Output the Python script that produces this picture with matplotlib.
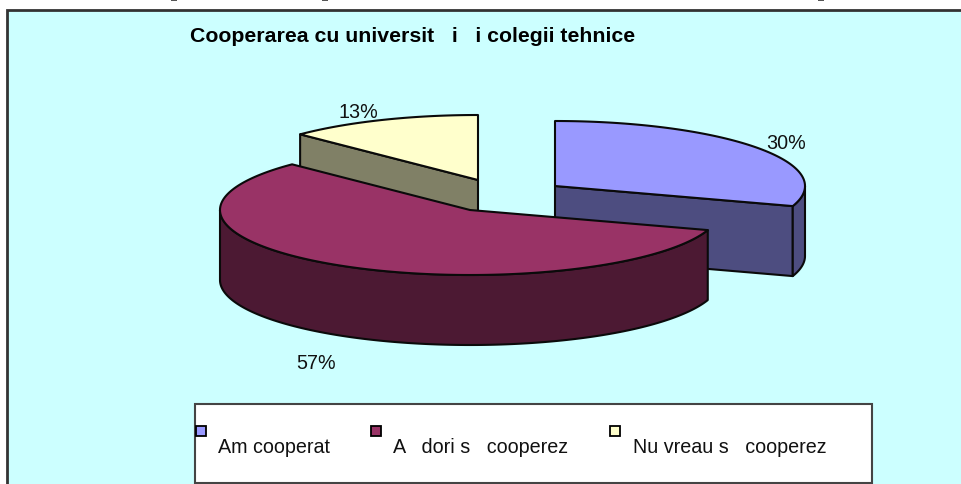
import numpy as np
import matplotlib
matplotlib.use("Agg")
import matplotlib.pyplot as plt
from matplotlib.patches import Rectangle

plt.rcParams['font.family'] = ['Liberation Sans', 'DejaVu Sans']

# Chart data (missing glyphs of the source are kept as blanks)
title = "Cooperarea cu universit   i   i colegii tehnice"
categories = ["Am cooperat", "A   dori s   cooperez", "Nu vreau s   cooperez"]
shares = [30, 57.4, 12.6]  # estimated from the slice edges, labels show them rounded
value_labels = ["30%", "57%", "13%"]

top_colors = ["#9999FF", "#993366", "#FFFFCC"]
side_colors = ["#4D4D80", "#4C1933", "#808066"]

# Pie geometry, pixels
RX, RY, DEPTH = 250, 65, 70
centers = [(555, 187), (470, 211), (478, 181)]
label_pos = [(786, 144), (316, 364), (358, 113)]
swatch_x = [196, 371, 610]
legend_text_x = [218, 393, 633]

fig = plt.figure(figsize=(9.62, 4.85), dpi=100, facecolor="white")
ax = fig.add_axes([0, 0, 1, 1])
ax.set_xlim(0, 962)
ax.set_ylim(485, 0)
ax.axis("off")


def rim(cx, cy, a0, a1, drop=0):
    # angles in degrees, clockwise from 12 o'clock
    t = np.radians(np.linspace(a0, a1, max(int(abs(a1 - a0)) * 2, 2)))
    return cx + RX * np.sin(t), cy - RY * np.cos(t) + drop


def draw_poly(xs, ys, color, zorder):
    ax.fill(xs, ys, facecolor=color, edgecolor="#0a0a0a", linewidth=1.5,
            joinstyle="round", zorder=zorder)


# chart area, runs off the right and bottom of the image
ax.add_patch(Rectangle((7.5, 10.5), 970, 490, facecolor="#CCFFFF", edgecolor="#333333",
                       linewidth=2, zorder=0))

# cut-off bits of the line of text above the chart
for x0 in [171, 322, 818]:
    ax.add_patch(Rectangle((x0, 0), 6, 1.5, facecolor="#555555", edgecolor="none", zorder=1))

edges = np.concatenate([[0], np.cumsum(shares)]) * 3.6

# Slices back to front: yellow, blue, maroon
for i in [2, 0, 1]:
    cx, cy = centers[i]
    a0, a1 = edges[i], edges[i + 1]
    z = 2 + [2, 0, 1].index(i) * 3

    # straight cut face that looks to the viewer
    if i in (0, 2):
        a_cut = a1 if i == 0 else a0
        rx_c, ry_c = rim(cx, cy, a_cut, a_cut + 1)
        draw_poly([cx, rx_c[0], rx_c[0], cx], [cy, ry_c[0], ry_c[0] + DEPTH, cy + DEPTH],
                  side_colors[i], z)

    # outer wall, only where the rim faces front (90 to 270 degrees)
    w0, w1 = max(a0, 90), min(a1, 270)
    if w1 > w0:
        xt, yt = rim(cx, cy, w0, w1)
        xb, yb = rim(cx, cy, w0, w1, DEPTH)
        draw_poly(np.concatenate([xt, xb[::-1]]), np.concatenate([yt, yb[::-1]]),
                  side_colors[i], z + 1)

    # top face
    xr, yr = rim(cx, cy, a0, a1)
    draw_poly(np.concatenate([[cx], xr]), np.concatenate([[cy], yr]), top_colors[i], z + 2)

for (x, y), lab in zip(label_pos, value_labels):
    ax.text(x, y, lab, fontsize=14.2, color="#111111", ha="center", va="center", zorder=20)

ax.text(190, 36, title, fontsize=15.3, fontweight="bold", color="black",
        ha="left", va="center", zorder=20)

# legend box, cut by the bottom of the image
ax.add_patch(Rectangle((195.5, 404.5), 676.5, 79.5, facecolor="white", edgecolor="#444444",
                       linewidth=1.5, zorder=15))
for i, cat in enumerate(categories):
    ax.add_patch(Rectangle((swatch_x[i], 427), 10, 10, facecolor=top_colors[i],
                           edgecolor="black", linewidth=1.3, zorder=16))
    ax.text(legend_text_x[i], 448, cat, fontsize=14.2, color="#111111",
            ha="left", va="center", zorder=16)

fig.savefig("out.png", dpi=100)
plt.close(fig)
